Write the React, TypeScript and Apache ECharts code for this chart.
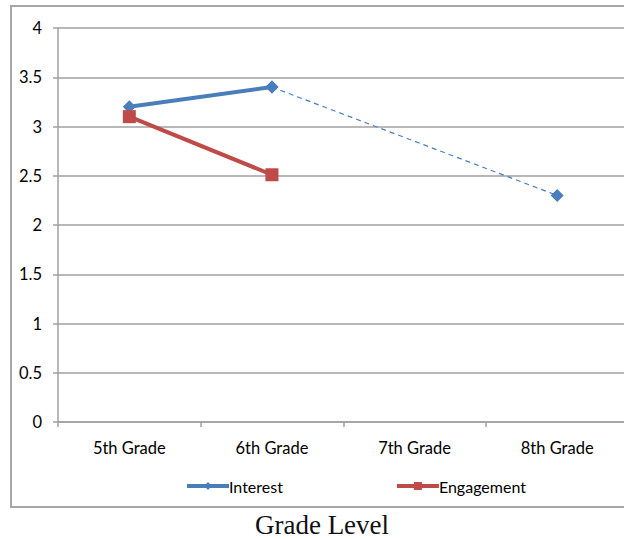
import React, { useEffect, useRef } from "react";
import * as echarts from "echarts";

const categories = ["5th Grade", "6th Grade", "7th Grade", "8th Grade"];
const interestSolid = [3.2, 3.4, null, null];
const interestDashed = [null, 3.4, null, 2.3];
const engagement = [3.1, 2.51, null, null];
const xTitle = "Grade Level";

export default function App() {
  const ref = useRef<HTMLDivElement>(null);
  useEffect(() => {
    const chart = echarts.init(ref.current!, null, { renderer: "svg" });
    const font = "Lato";
    const blue = "#4a7ebb";
    const red = "#be4b48";
    const gray = "#a0a0a0";
    chart.setOption({
      animation: false,
      textStyle: { fontFamily: font },
      grid: { left: 58, top: 28, right: 11.5, bottom: 117 },
      xAxis: {
        type: "category",
        data: categories,
        boundaryGap: true,
        axisLine: { lineStyle: { color: gray, width: 1.5 } },
        axisTick: { show: true, length: 5, lineStyle: { color: gray, width: 1.5 } },
        axisLabel: { color: "#000", fontSize: 16.5, margin: 17, fontFamily: font },
      },
      yAxis: {
        type: "value",
        min: 0,
        max: 4,
        interval: 0.5,
        axisLine: { show: true, lineStyle: { color: gray, width: 1.5 } },
        axisTick: { show: true, length: 5, lineStyle: { color: gray, width: 1.5 } },
        axisLabel: { color: "#000", fontSize: 16.5, margin: 16, fontFamily: font },
        splitLine: { lineStyle: { color: gray, width: 1.5 } },
      },
      legend: {
        left: 180,
        top: 473,
        itemWidth: 42,
        itemHeight: 10,
        itemGap: 112,
        lineStyle: { width: 4 },
        textStyle: { fontSize: 16, color: "#000", fontFamily: font, padding: [0, 0, 0, -5] },
        data: [{ name: "Interest" }, { name: "Engagement" }],
      },
      graphic: [
        {
          type: "rect",
          shape: { x: 11, y: 6, width: 700, height: 501 },
          style: { fill: "none", stroke: "#a6a6a6", lineWidth: 2 },
          silent: true,
        },
        {
          type: "text",
          x: 322,
          y: 525,
          style: {
            text: xTitle,
            font: '27px "Liberation Serif"',
            fill: "#111",
            textAlign: "center",
            textVerticalAlign: "middle",
          },
        },
      ],
      series: [
        {
          name: "Interest",
          type: "line",
          data: interestSolid,
          symbol: "diamond",
          symbolSize: 13,
          itemStyle: { color: blue },
          lineStyle: { color: blue, width: 4 },
          z: 3,
        },
        {
          name: "Interest",
          type: "line",
          data: interestDashed,
          connectNulls: true,
          symbol: "diamond",
          symbolSize: 13,
          showSymbol: true,
          itemStyle: { color: blue },
          lineStyle: { color: blue, width: 1.2, type: [5, 4] },
          z: 2,
        },
        {
          name: "Engagement",
          type: "line",
          data: engagement,
          symbol: "rect",
          symbolSize: 13,
          itemStyle: { color: red },
          lineStyle: { color: red, width: 4 },
          z: 4,
        },
      ],
    });
    return () => chart.dispose();
  }, []);
  return (
    <div
      ref={ref}
      style={{ position: "fixed", left: 0, top: 0, width: 640, height: 539, background: "#fff" }}
    />
  );
}
